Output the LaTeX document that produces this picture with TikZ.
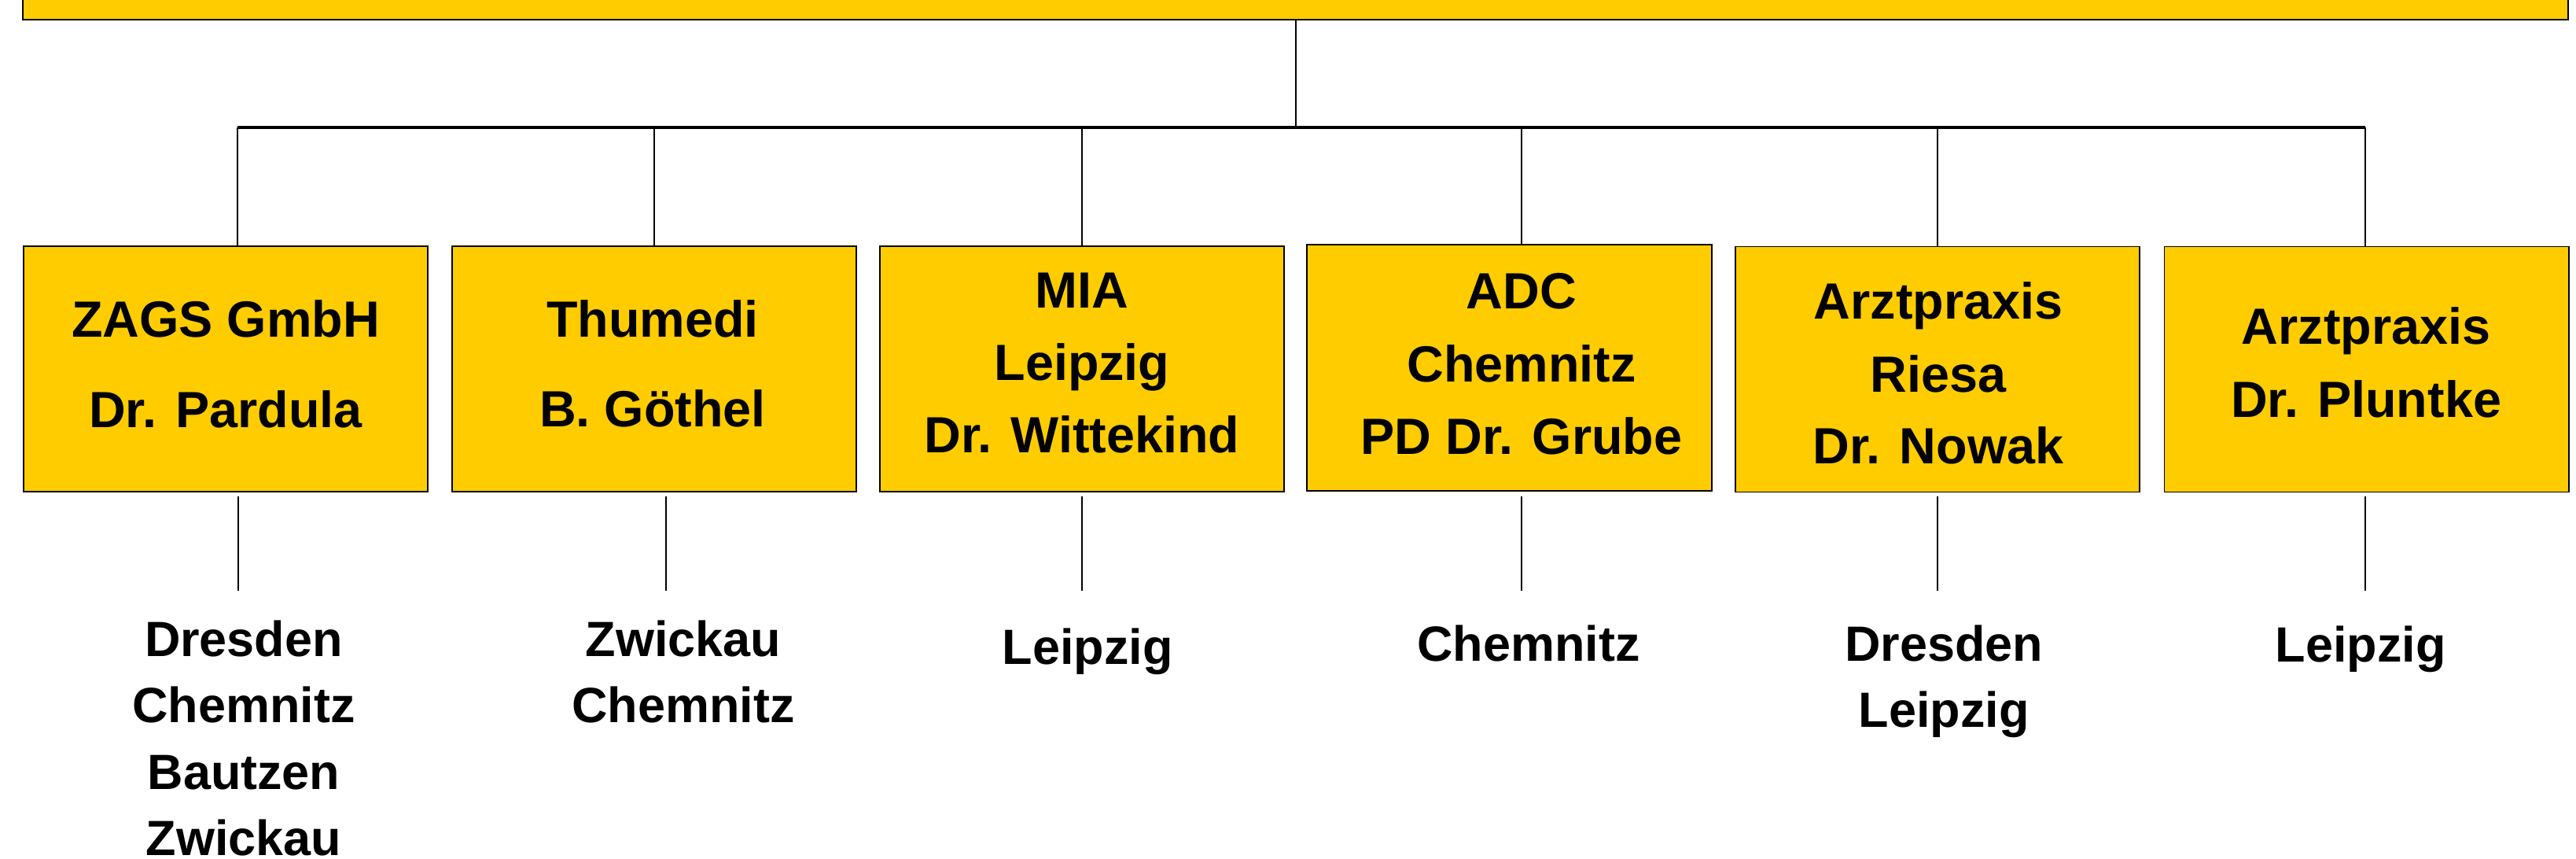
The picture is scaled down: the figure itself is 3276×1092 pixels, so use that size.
\documentclass[tikz,border=0pt]{standalone}
\usepackage{fontspec}
\setmainfont{Liberation Sans}
\definecolor{boxyellow}{HTML}{FFCC00}
\begin{document}
\begin{tikzpicture}[x=0.01cm,y=-0.01cm,
  box/.style={draw=black, line width=0.5pt, fill=boxyellow, inner sep=0pt, outer sep=0pt,
              minimum width=5.14cm, minimum height=3.12cm},
  boxtxt/.style={font=\fontsize{18.4}{22}\selectfont\bfseries, inner sep=0pt, anchor=base},
  citytxt/.style={font=\fontsize{17.9}{22}\selectfont\bfseries, inner sep=0pt, anchor=base},
  thin/.style={draw=black, line width=0.45pt},
  busline/.style={draw=black, line width=0.9pt},
  drop/.style={draw=black, line width=0.75pt}]
\useasboundingbox (0,0) rectangle (3276,1092);

% top box (cut off at top edge)
\node[box, minimum width=32.35cm, minimum height=0.6cm] (top) at (1647.5,-5) {};

% company boxes
\node[box] (zags) at (287,469) {};
\node[box] (thu)  at (832,469) {};
\node[box] (mia)  at (1376,469) {};
\node[box, minimum height=3.13cm] (adc)  at (1919.5,467.5) {};
\node[box] (ries) at (2464,469.5) {};
\node[box] (plu)  at (3009.5,469.5) {};

% bus
\coordinate (busL) at (302,162);
\coordinate (busR) at (3008,162);
\coordinate (busT) at (1648,162);
\coordinate (busA) at (1935,162);
\draw[busline] (busL) -- (busR);
\draw[thin] (top.south -| busT) -- (busT);
\draw[thin] (busL) -- (busL |- zags.north);
\draw[thin] (thu.north |- busL) -- (thu.north);
\draw[thin] (mia.north |- busL) -- (mia.north);
\draw[thin] (busA) -- (busA |- adc.north);
\draw[thin] (ries.north |- busL) -- (ries.north);
\draw[thin] (busR) -- (busR |- plu.north);

% texts in boxes
\node[boxtxt] (zags1) at (287,429) {ZAGS GmbH};
\node[boxtxt] (zags2) at (287,544) {Dr. Pardula};
\node[boxtxt] (thu1) at (830,429) {Thumedi};
\node[boxtxt] (thu2) at (830,543) {B. Göthel};
\node[boxtxt] (mia1) at (1376,392) {MIA};
\node[boxtxt] (mia2) at (1376,484) {Leipzig};
\node[boxtxt] (mia3) at (1376,576) {Dr. Wittekind};
\node[boxtxt] (adc1) at (1935,393) {ADC};
\node[boxtxt] (adc2) at (1935,486) {Chemnitz};
\node[boxtxt] (adc3) at (1935,578) {PD Dr. Grube};
\node[boxtxt] (ries1) at (2465,406) {Arztpraxis};
\node[boxtxt] (ries2) at (2465,499) {Riesa};
\node[boxtxt] (ries3) at (2465,590) {Dr. Nowak};
\node[boxtxt] (plu1) at (3009,438) {Arztpraxis};
\node[boxtxt] (plu2) at (3009,531) {Dr. Pluntke};

% lower drops
\coordinate (zagsLa) at (303,631);  \coordinate (zagsLb) at (303,751);
\coordinate (thuLa)  at (847,631);  \coordinate (thuLb)  at (847,751);
\coordinate (miaLa)  at (1376,631); \coordinate (miaLb)  at (1376,751);
\coordinate (adcLa)  at (1935,631); \coordinate (adcLb)  at (1935,751);
\coordinate (riesLa) at (2464,631); \coordinate (riesLb) at (2464,751);
\coordinate (pluLa)  at (3008,631); \coordinate (pluLb)  at (3008,751);
\draw[drop] (zagsLa) -- (zagsLb);
\draw[drop] (thuLa) -- (thuLb);
\draw[drop] (miaLa) -- (miaLb);
\draw[drop] (adcLa) -- (adcLb);
\draw[drop] (riesLa) -- (riesLb);
\draw[drop] (pluLa) -- (pluLb);

% city texts
\node[citytxt] (zc1) at (310,835) {Dresden};
\node[citytxt] (zc2) at (310,919) {Chemnitz};
\node[citytxt] (zc3) at (310,1003) {Bautzen};
\node[citytxt] (zc4) at (310,1087) {Zwickau};
\node[citytxt] (tc1) at (869,835) {Zwickau};
\node[citytxt] (tc2) at (869,919) {Chemnitz};
\node[citytxt] (mc1) at (1383,845) {Leipzig};
\node[citytxt] (ac1) at (1944,841) {Chemnitz};
\node[citytxt] (rc1) at (2472,841) {Dresden};
\node[citytxt] (rc2) at (2472,925) {Leipzig};
\node[citytxt] (pc1) at (3002,842) {Leipzig};
\end{tikzpicture}
\end{document}
